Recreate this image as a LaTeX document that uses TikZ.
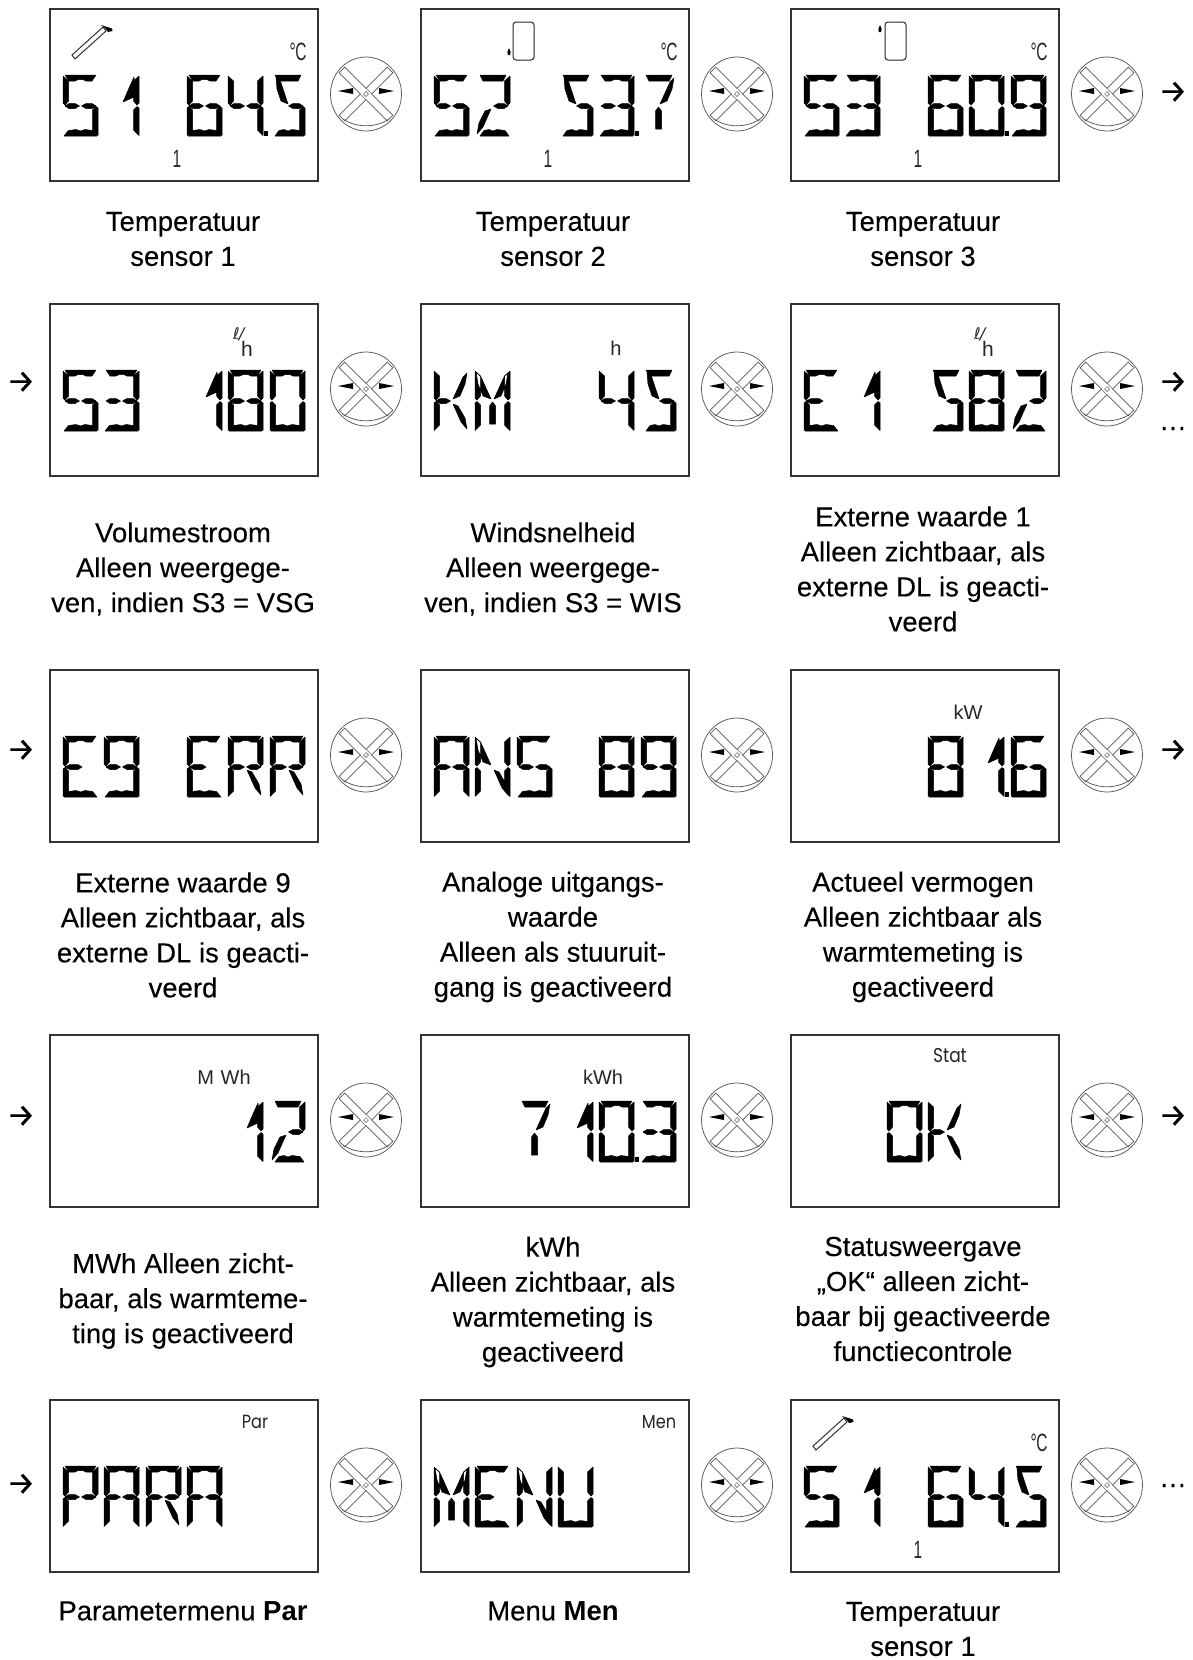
\documentclass[tikz,border=0pt]{standalone}
\usepackage{fontspec}
\setmainfont[FakeBold=0.15,BoldFeatures={FakeBold=0}]{Liberation Sans}
\newfontfamily\arrowfont[FakeBold=0.2]{Fira Sans}
\newfontfamily\narrowfont[FakeStretch=0.62]{Liberation Sans}
\newfontfamily\plainfont{Liberation Sans}
\newfontfamily\roundfont[FakeStretch=0.85]{Poppins}
\newfontfamily\symfont{DejaVu Sans}
% segments, in a cell 35 wide and 61 high, y pointing down
\def\segA{(2,0)--(33,0)--(29,6)--(23,6)--(20,4.5)--(15,4.5)--(12,6)--(6,6)--cycle }
\def\segAs{(5,0)--(31,0)--(28,6)--(8,6)--cycle }
\def\segB{(35,1)--(35,28)--(33,30)--(29.5,26)--(29.5,6)--cycle }
\def\segC{(35,33)--(35,60.5)--(29.5,55)--(29.5,35)--(33,31.5)--cycle }
\def\segD{(1,61)--(34,61)--(29.5,55.5)--(22,54.5)--(17.5,56)--(13,54.5)--(5.5,55.5)--cycle }
\def\segDs{(5,61)--(34,61)--(30,55.5)--(22,54.5)--(18,56)--(14,54.5)--(9,55.5)--cycle }
\def\segE{(0,33)--(0,60.5)--(5.5,55)--(5.5,35)--(2,31.5)--cycle }
\def\segF{(0,1)--(0,28)--(2,30)--(5.5,26)--(5.5,6)--cycle }
\def\segG{(2,31)--(6,28.5)--(12,28.5)--(16.5,31)--(12,33.5)--(6,33.5)--cycle }
\def\segH{(18.5,31)--(23,28.5)--(29,28.5)--(33,31)--(29,33.5)--(23,33.5)--cycle }
\def\segGs{(19,31)--(15,33.5)--(7,33.5)--(2,31)--(7,28.5)--(15,28.5)--cycle }
\def\segN{(1,2)--(6,7)--(16,29)--(8,26)--(3,14)--cycle }
\def\segNs{(6,2)--(10,5)--(18,29)--(11,26)--(7,14)--cycle }
\def\segI{(33,3)--(29,7)--(19,29)--(26,26)--(31,14)--cycle }
\def\segK{(19,34)--(24,36)--(31,48)--(33,59)--(27,52)--cycle }
\def\segL{(16,34)--(10,36)--(4,48)--(2,59)--(8,52)--cycle }
\def\segM{(14.5,36)--(17.5,32)--(20.5,36)--(20.5,54)--(14.5,54)--cycle }
\def\segQ{(30,2)--(30,22)--(19,27)--(25,13)--cycle }
% glyphs
\def\gFive{\segA\segF\segG\segH\segC\segD}
\def\gFiveS{\segAs\segNs\segH\segC\segDs}
\def\gOne{\segQ\segB\segC}
\def\gTwo{\segAs\segB\segH\segL\segDs}
\def\gThree{\segA\segB\segC\segD\segG\segH}
\def\gFour{\segF\segB\segC\segG\segH}
\def\gSix{\segA\segF\segE\segG\segH\segC\segD}
\def\gSeven{\segAs\segI\segM}
\def\gEight{\segA\segB\segC\segD\segE\segF\segG\segH}
\def\gNine{\segA\segB\segC\segD\segF\segG\segH}
\def\gZero{\segA\segB\segC\segD\segE\segF}
\def\gE{\segA\segF\segE\segD\segGs}
\def\gK{\segF\segE\segG\segI\segK}
\def\gM{\segF\segE\segB\segC\segN\segI\segM}
\def\gR{\segA\segF\segE\segB\segG\segH\segK}
\def\gAA{\segA\segF\segE\segB\segC\segG\segH}
\def\gN{\segF\segE\segB\segC\segN\segK}
\def\gP{\segA\segF\segE\segB\segG\segH}
\def\gU{\segF\segE\segB\segC\segD}
% helpers: cells 0..5
\newcommand\cellat[2]{\path[fill=black,draw=black,line width=.5pt,line join=round,shift={(\ifcase#1 13\or 54\or 96\or 137\or 178\or 220\fi,66)}] #2;}
\newcommand\decimalpt{\fill (213.5,122) rectangle (217.5,127);}
\newcommand\knobmark{%
  \begin{scope}[shift={(316,85)},line width=.75pt,draw=black!65]
    \draw (0,0) ellipse [x radius=35.5pt,y radius=37pt];
    \draw[fill=white,rotate=45] (-34,-4) rectangle (34,4);
    \draw[fill=white,rotate=-45] (-34,-4) rectangle (34,4);
    \fill[white,rotate=45] (-3.6,-3.6) rectangle (3.6,3.6);
    \draw[line width=.5pt,rotate=45] (-1.7,-1.7) rectangle (1.7,1.7);
    \draw (-23,25) .. controls (-10,34) and (10,34) .. (23,25);
    \fill[black] (13,-6) -- (28,-3) -- (13,0) -- cycle;
    \fill[black] (-13,-6) -- (-28,-3) -- (-13,0) -- cycle;
  \end{scope}}
\newcommand\panel[4]{%
  \begin{scope}[shift={(#2,#3)}]
    \node[lcdbox] (#1) at (134.2,86) {};
    #4
    \knobmark
  \end{scope}}
\newcommand\collector{%
  \draw[line width=1pt,draw=black!80,fill=white] (22,46) -- (53,18) -- (56,22) -- (25,50) -- cycle;
  \fill (51,16) -- (62,19.5) -- (62.5,22) -- (58,23) -- (55,19) -- cycle;}
\newcommand\tank[3]{%
  \draw[line width=1pt,draw=black!85,rounded corners=3pt] (#1,13) rectangle (#1+21,51);
  \fill (#2-1.6,#3) -- (#2,#3-4) -- (#2+1.6,#3) -- (#2+1.2,#3+3) -- (#2-1.2,#3+3) -- cycle;}
\newcommand\degC{\node[smalltxt,font=\fontsize{25}{25}\narrowfont] (t) at (248,42.5) {°\kern-.5pt C};}
\newcommand\smallone[1]{\node[smalltxt,font=\fontsize{25}{25}\narrowfont] (#1) at (127,149.5) {1};}
\newcommand\lph{\node[smalltxt,font=\fontsize{21}{21}\plainfont,anchor=base] (u) at (193,52) {\raisebox{17pt}{\symfont\fontsize{16}{16}\selectfont\itshape ℓ\kern-1pt/}\kern-3pt h};}
\newcommand\lbl[4]{\node[lbltxt] (#1) at (#2,#3) {#4};}
\begin{document}
\begin{tikzpicture}[x=1pt,y=-1pt,
  lcdbox/.style={draw=black!80,line width=1.5pt,minimum width=268pt,minimum height=172pt,inner sep=0pt},
  lbltxt/.style={align=center,inner sep=0pt,font=\fontsize{27.5}{35}\selectfont},
  smalltxt/.style={inner sep=0pt,text=black!85},
  arrowtxt/.style={inner sep=0pt,font=\fontsize{32}{32}\arrowfont},
  dotstxt/.style={inner sep=0pt,anchor=base,font=\fontsize{28}{28}\selectfont}]
\useasboundingbox (0,0) rectangle (1192,1660);
\fill[white] (0,0) rectangle (1192,1660);
% row 1
\panel{p11}{50}{9}{\collector\degC\smallone{n11}
  \cellat0\gFive\cellat1\gOne\cellat3\gSix\cellat4\gFour\decimalpt\cellat5\gFiveS}
\panel{p12}{421}{9}{\tank{92}{88}{43}\degC\smallone{n12}
  \cellat0\gFive\cellat1\gTwo\cellat3\gFiveS\cellat4\gThree\decimalpt\cellat5\gSeven}
\panel{p13}{791}{9}{\tank{94}{89}{20}\degC\smallone{n13}
  \cellat0\gFive\cellat1\gThree\cellat3\gSix\cellat4\gZero\decimalpt\cellat5\gNine}
\node[arrowtxt] (a1) at (1173,92) {→};
\lbl{l11}{183}{239}{Temperatuur\\sensor 1}
\lbl{l12}{553}{239}{Temperatuur\\sensor 2}
\lbl{l13}{923}{239}{Temperatuur\\sensor 3}
% row 2
\node[arrowtxt] (a2) at (21,382) {→};
\panel{p21}{50}{304}{\lph
  \cellat0\gFive\cellat1\gThree\cellat3\gOne\cellat4\gEight\cellat5\gZero}
\panel{p22}{421}{304}{\node[smalltxt,font=\fontsize{20}{20}\plainfont,anchor=base] (u2) at (195,51) {h};
  \cellat0\gK\cellat1\gM\cellat4\gFour\cellat5\gFiveS}
\panel{p23}{791}{304}{\lph
  \cellat0\gE\cellat1\gOne\cellat3\gFiveS\cellat4\gEight\cellat5\gTwo}
\node[arrowtxt] (a3) at (1173,382) {→};
\node[dotstxt] (d1) at (1173,430) {…};
\lbl{l21}{183}{569}{Volumestroom\\Alleen weergege-\\ven, indien S3 = VSG}
\lbl{l22}{553}{569}{Windsnelheid\\Alleen weergege-\\ven, indien S3 = WIS}
\lbl{l23}{923}{569}{Externe waarde 1\\Alleen zichtbaar, als\\externe DL is geacti-\\veerd}
% row 3
\node[arrowtxt] (a4) at (21,750) {→};
\panel{p31}{50}{670}{\cellat0\gE\cellat1\gNine\cellat3\gE\cellat4\gR\cellat5\gR}
\panel{p32}{421}{670}{\cellat0\gAA\cellat1\gN\cellat2\gFive\cellat4\gEight\cellat5\gNine}
\panel{p33}{791}{670}{\node[smalltxt,font=\fontsize{20}{20}\plainfont] (u3) at (177,42) {kW};
  \cellat3\gEight\cellat4\gOne\decimalpt\cellat5\gSix}
\node[arrowtxt] (a5) at (1173,750) {→};
\lbl{l31}{183}{935}{Externe waarde 9\\Alleen zichtbaar, als\\externe DL is geacti-\\veerd}
\lbl{l32}{553}{937}{Analoge uitgangs-\\waarde\\Alleen als stuuruit-\\gang is geactiveerd}
\lbl{l33}{923}{937}{Actueel vermogen\\Alleen zichtbaar als\\warmtemeting is\\geactiveerd}
% row 4
\node[arrowtxt] (a6) at (21,1116) {→};
\panel{p41}{50}{1035}{\node[smalltxt,font=\fontsize{20}{20}\plainfont] (u4) at (174,42) {M\,\,Wh};
  \cellat4\gOne\cellat5\gTwo}
\panel{p42}{421}{1035}{\node[smalltxt,font=\fontsize{20}{20}\plainfont] (u5) at (182,42) {kWh};
  \cellat2\gSeven\cellat3\gOne\cellat4\gZero\decimalpt\cellat5\gThree}
\panel{p43}{791}{1035}{\node[smalltxt,font=\fontsize{20}{20}\roundfont] (u6) at (159,21) {Stat};
  \cellat2\gZero\cellat3\gK}
\node[arrowtxt] (a7) at (1173,1116) {→};
\lbl{l41}{183}{1301}{MWh Alleen zicht-\\baar, als warmteme-\\ting is geactiveerd}
\lbl{l42}{553}{1302}{kWh\\Alleen zichtbaar, als\\warmtemeting is\\geactiveerd}
\lbl{l43}{923}{1299}{Statusweergave\\„OK“ alleen zicht-\\baar bij geactiveerde\\functiecontrole}
% row 5
\node[arrowtxt] (a8) at (21,1484) {→};
\panel{p51}{50}{1400}{\node[smalltxt,font=\fontsize{19}{19}\roundfont] (u7) at (205,22) {Par};
  \cellat0\gP\cellat1\gAA\cellat2\gR\cellat3\gAA}
\panel{p52}{421}{1400}{\node[smalltxt,font=\fontsize{19}{19}\roundfont] (u8) at (238,22) {Men};
  \cellat0\gM\cellat1\gE\cellat2\gN\cellat3\gU}
\panel{p53}{791}{1400}{\collector\degC\smallone{n53}
  \cellat0\gFive\cellat1\gOne\cellat3\gSix\cellat4\gFour\decimalpt\cellat5\gFiveS}
\node[dotstxt] (d2) at (1173,1487) {…};
\lbl{l51}{183}{1611}{Parametermenu \textbf{Par}}
\lbl{l52}{553}{1611}{Menu \textbf{Men}}
\lbl{l53}{923}{1629}{Temperatuur\\sensor 1}
\end{tikzpicture}
\end{document}
